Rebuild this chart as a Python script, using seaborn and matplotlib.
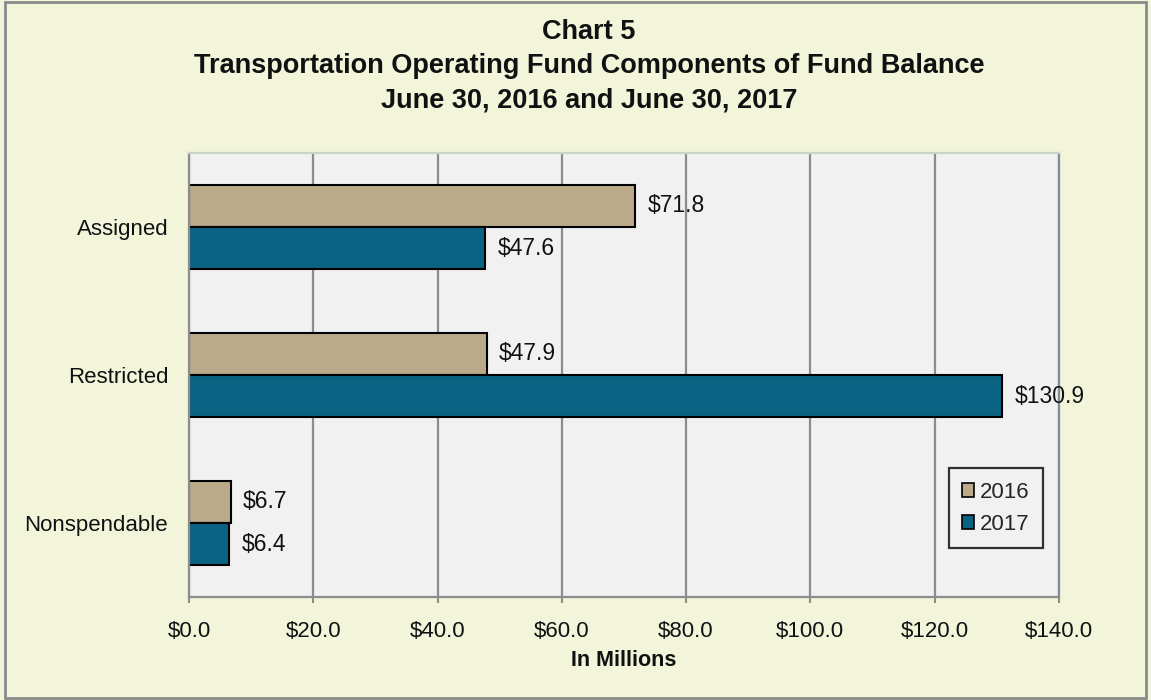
import matplotlib
matplotlib.use("Agg")
import matplotlib.pyplot as plt
import seaborn as sns
import pandas as pd
from matplotlib.patches import Rectangle
from matplotlib.ticker import FuncFormatter

categories = ["Assigned", "Restricted", "Nonspendable"]
years = ["2016", "2017"]
values_2016 = [71.8, 47.9, 6.7]
values_2017 = [47.6, 130.9, 6.4]
x_ticks = [0, 20, 40, 60, 80, 100, 120, 140]

df = pd.DataFrame({
    "Category": categories * 2,
    "Year": [years[0]] * 3 + [years[1]] * 3,
    "Value": values_2016 + values_2017,
})

sns.set_theme(style="white")
plt.rcParams["font.family"] = ["Liberation Sans", "DejaVu Sans"]

fig = plt.figure(figsize=(11.51, 7.0), dpi=100)
fig.patch.set_facecolor("#F2F5DA")
ax = fig.add_axes([0.1642, 0.1471, 0.920 - 0.1642, 0.7814 - 0.1471])
ax.set_facecolor("#F1F1F1")

palette = {"2016": "#BBAA8A", "2017": "#0B6383"}
sns.barplot(data=df, y="Category", x="Value", hue="Year", order=categories,
            hue_order=years, palette=palette, orient="h", width=0.57,
            edgecolor="black", linewidth=1.5, saturation=1, ax=ax)

for cont in ax.containers:
    ax.bar_label(cont, labels=[f"${v:.1f}" for v in cont.datavalues],
                 padding=9, fontsize=16.5, color="#111111")

ax.set_xlim(0, 140)
ax.set_ylim(2.5, -0.5)
ax.set_xticks(x_ticks)
ax.xaxis.set_major_formatter(FuncFormatter(lambda v, p: f"${v:.1f}"))
ax.grid(axis="x", color="#8C8C8C", linewidth=1.6)
ax.set_axisbelow(True)
ax.tick_params(axis="x", labelsize=16, length=4, width=1.5, color="#8C8C8C",
               pad=13, bottom=True, labelcolor="#111111")
ax.tick_params(axis="y", labelsize=16, length=0, pad=15, labelcolor="#111111")
ax.set_ylabel("")
ax.set_xlabel("In Millions", fontsize=15.5, fontweight="bold", labelpad=6,
              color="#111111")

for s in ["left", "bottom"]:
    ax.spines[s].set_color("#8C8C8C")
    ax.spines[s].set_linewidth(1.6)
ax.spines["right"].set_color("#7F8C99")
ax.spines["right"].set_linewidth(1.6)
ax.spines["top"].set_color("#C8D4C8")
ax.spines["top"].set_linewidth(1.6)

leg = ax.legend(title=None, loc="lower right", bbox_to_anchor=(0.9816, 0.110),
                fontsize=16, frameon=True, fancybox=False, handlelength=0.55,
                handleheight=0.55, handletextpad=0.25, borderpad=0.6,
                labelspacing=0.5, borderaxespad=0)
leg.get_frame().set_edgecolor("black")
leg.get_frame().set_linewidth(1.6)
leg.get_frame().set_facecolor("#F1F1F1")
for h in leg.legend_handles:
    h.set_edgecolor("black")
    h.set_linewidth(1.2)

title_lines = ["Chart 5",
               "Transportation Operating Fund Components of Fund Balance",
               "June 30, 2016 and June 30, 2017"]
for line, base in zip(title_lines, [39, 73, 107]):
    fig.text(589 / 1151, 1 - base / 700, line, ha="center", va="baseline",
             fontsize=19.5, fontweight="bold", color="#111111")

fig.add_artist(Rectangle((0.004, 0.003), 0.992, 0.994, transform=fig.transFigure,
                         fill=False, edgecolor="#8A8A8A", linewidth=2))

fig.savefig("out.png", dpi=100, facecolor=fig.get_facecolor())
